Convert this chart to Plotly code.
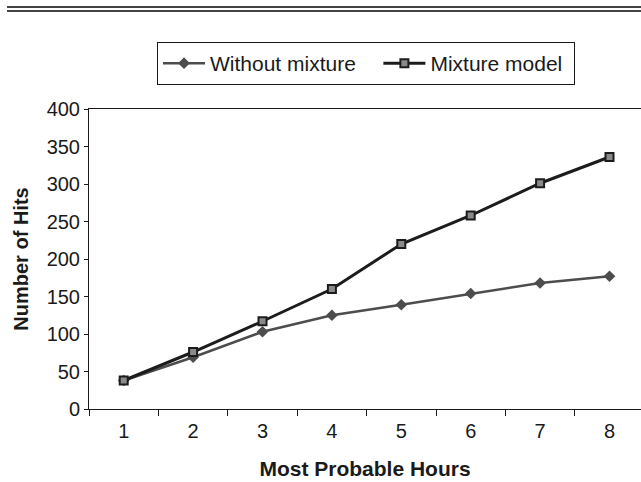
import plotly.graph_objects as go

hours = ["1", "2", "3", "4", "5", "6", "7", "8"]
without_mixture = [38, 69, 103, 125, 139, 154, 168, 177]
mixture_model = [38, 76, 117, 160, 220, 258, 301, 336]
y_ticks = [0, 50, 100, 150, 200, 250, 300, 350, 400]
series_names = ["Without mixture", "Mixture model"]

FONT = "Liberation Sans, Arial, Helvetica, sans-serif"
NBSP = "\u00a0"

fig = go.Figure()
fig.add_trace(go.Scatter(
    x=hours, y=without_mixture, name=series_names[0] + NBSP * 3, mode="lines+markers",
    line=dict(color="#4d4d4d", width=2.5),
    marker=dict(symbol="diamond", size=9, color="#4d4d4d"),
))
fig.add_trace(go.Scatter(
    x=hours, y=mixture_model, name=series_names[1] + NBSP, mode="lines+markers",
    line=dict(color="#1c1c1c", width=3),
    marker=dict(symbol="square", size=8, color="#8a8a8a",
                line=dict(color="#1c1c1c", width=2)),
))

W, H = 641, 482
ml, mr, mt, mb = 89, 0, 109, 73
pw = W - ml - mr
ph = H - mt - mb
cat_w = 69.4

fig.update_layout(
    width=W, height=H,
    margin=dict(l=ml, r=mr, t=mt, b=mb, pad=0),
    paper_bgcolor="white", plot_bgcolor="white",
    font=dict(family=FONT, size=20, color="#1a1a1a"),
    showlegend=True,
    legend=dict(
        orientation="h", x=(157 - ml) / pw, y=1 + (mt - 42) / ph,
        xanchor="left", yanchor="top",
        bordercolor="#1a1a1a", borderwidth=1,
        font=dict(family=FONT, size=21, color="#1a1a1a"),
        itemwidth=42,
    ),
    xaxis=dict(
        type="category",
        range=[-0.5, -0.5 + pw / cat_w],
        tickson="boundaries",
        ticks="outside", ticklen=6, tickcolor="#1a1a1a",
        showline=True, linecolor="#1a1a1a", linewidth=1,
        mirror=True, showgrid=False, zeroline=False,
        tickfont=dict(size=20),
        ticklabelstandoff=4,
        title=dict(text="<b>Most Probable Hours</b>", font=dict(size=21), standoff=20),
    ),
    yaxis=dict(
        range=[0, 400], tickvals=y_ticks,
        ticks="outside", ticklen=4, tickcolor="#1a1a1a",
        showline=True, linecolor="#1a1a1a", linewidth=1,
        showgrid=False, zeroline=False,
        tickfont=dict(size=20),
        ticklabelstandoff=0,
        title=dict(text="<b>Number of Hits</b>", font=dict(size=20), standoff=12),
    ),
)

# decorative double rule at top of the page
for ypx in (7, 11):
    fig.add_shape(type="line", xref="paper", yref="paper",
                  x0=(7 - ml) / pw, x1=(W - ml) / pw,
                  y0=1 + (mt - ypx) / ph, y1=1 + (mt - ypx) / ph,
                  line=dict(color="#444444", width=2))

fig.write_html("out.html")
